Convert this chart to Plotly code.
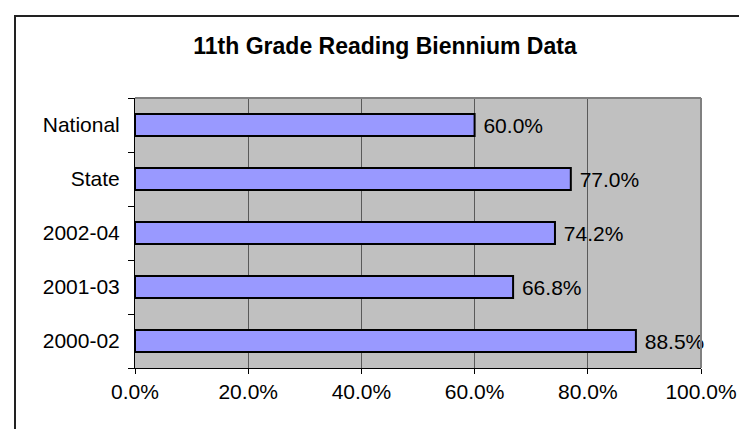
import plotly.graph_objects as go

categories = ["2000-02", "2001-03", "2002-04", "State", "National"]
values = [0.885, 0.668, 0.742, 0.770, 0.600]
x_ticks = [0.0, 0.2, 0.4, 0.6, 0.8, 1.0]
title_text = "11th Grade Reading Biennium Data"

W, H = 747, 429
L, R, T, B = 127, 747 - 693, 90, 429 - 360
pw, ph = W - L - R, H - T - B

def px_x(p):
    return (p - L) / pw

def px_y(p):
    return (H - B - p) / ph

font_family = "Liberation Sans, Arial, sans-serif"

fig = go.Figure(
    go.Bar(
        x=values,
        y=categories,
        orientation="h",
        marker=dict(color="#9999FF", line=dict(color="black", width=2)),
        texttemplate="\u00a0%{x:.1%}",
        textposition="outside",
        textfont=dict(family=font_family, size=21, color="black"),
        constraintext="none",
        cliponaxis=False,
        hoverinfo="skip",
    )
)

fig.update_layout(
    width=W,
    height=H,
    margin=dict(l=L, r=R, t=T, b=B, pad=0),
    paper_bgcolor="white",
    plot_bgcolor="#C0C0C0",
    bargap=0.59,
    showlegend=False,
    font=dict(family=font_family, size=21, color="black"),
    title=dict(
        text="<b>" + title_text + "</b>",
        font=dict(family=font_family, size=23, color="black"),
        x=px_x(377),
        xref="paper",
        xanchor="center",
        y=1 - 38 / H,
        yref="container",
        yanchor="middle",
    ),
    xaxis=dict(
        range=[0, 1],
        tickvals=x_ticks,
        tickformat=".1%",
        showgrid=True,
        gridcolor="#5a5a5a",
        gridwidth=1,
        zeroline=False,
        showline=True,
        linecolor="black",
        linewidth=1,
        ticks="outside",
        ticklen=5,
        tickcolor="black",
        tickfont=dict(family=font_family, size=21, color="black"),
        fixedrange=True,
    ),
    yaxis=dict(
        type="category",
        categoryorder="array",
        categoryarray=categories,
        showgrid=False,
        zeroline=False,
        showline=True,
        linecolor="black",
        linewidth=1,
        ticks="outside",
        tickson="boundaries",
        ticklen=6,
        tickcolor="black",
        tickfont=dict(family=font_family, size=21, color="black"),
        ticklabelstandoff=10,
        fixedrange=True,
    ),
    shapes=[
        # grey frame on top and right of plot area
        dict(type="line", xref="paper", yref="paper", x0=0, x1=1, y0=1, y1=1,
             line=dict(color="#808080", width=2), layer="above"),
        dict(type="line", xref="paper", yref="paper", x0=1, x1=1, y0=0, y1=1,
             line=dict(color="#808080", width=2), layer="above"),
        # outer chart border (left & top visible)
        dict(type="rect", xref="paper", yref="paper",
             x0=px_x(7), x1=px_x(820), y0=px_y(8), y1=px_y(500),
             line=dict(color="#222222", width=2), fillcolor="rgba(0,0,0,0)",
             layer="above"),
    ],
)

fig.write_html("out.html")
